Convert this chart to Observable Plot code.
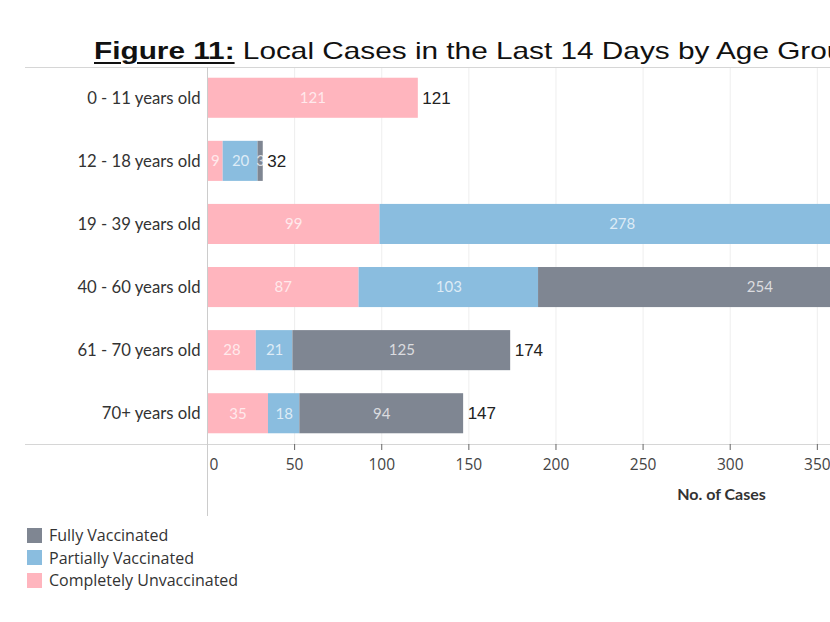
<!DOCTYPE html>
<html>
<head>
<meta charset="utf-8">
<script src="https://cdn.jsdelivr.net/npm/d3@7"></script>
<script src="https://cdn.jsdelivr.net/npm/@observablehq/plot@0.6"></script>
<style>
  body { margin: 0; width: 830px; height: 622px; overflow: hidden; position: relative; background: #fff; }
  #title { position: absolute; left: 94px; top: 37px; white-space: nowrap; font-family: "Liberation Sans", Arial, sans-serif; font-size: 24px; line-height: 28px; color: #111; transform-origin: left center; transform: scaleX(1.24); z-index: 2; }
  #title b { text-decoration: underline; text-decoration-thickness: 2px; text-underline-offset: 3px; }
  #chart { position: absolute; left: 0; top: 60px; width: 1240px; }
  #chart svg { max-width: none !important; width: 1240px; height: 460px; }
  #legend { position: absolute; left: 27px; top: 524px; font-family: "Open Sans", sans-serif; font-size: 16px; color: #333; }
  .item { display: flex; align-items: center; height: 22.5px; }
  .sw { width: 15px; height: 15px; margin-right: 7px; }
</style>
</head>
<body>
<div id="title"><b>Figure 11:</b> Local Cases in the Last 14 Days by Age Group</div>
<div id="chart"></div>
<div id="legend"></div>
<script>
const ageGroups = ["0 - 11 years old", "12 - 18 years old", "19 - 39 years old", "40 - 60 years old", "61 - 70 years old", "70+ years old"];
const statuses = ["Completely Unvaccinated", "Partially Vaccinated", "Fully Vaccinated"];
const unvaccinated = [121, 9, 99, 87, 28, 35];
const partially = [0, 20, 278, 103, 21, 18];
const fully = [0, 3, 150, 254, 125, 94];
const colors = ["#FFB5BE", "#8ABDDF", "#7F8692"];
const xTicks = [50, 100, 150, 200, 250, 300, 350, 400, 450, 500, 550];
const legendOrder = ["Fully Vaccinated", "Partially Vaccinated", "Completely Unvaccinated"];

const series = [unvaccinated, partially, fully];
const data = [];
ageGroups.forEach((age, i) => {
  statuses.forEach((s, j) => {
    if (series[j][i] > 0) data.push({age, status: s, value: series[j][i]});
  });
});

const stackOpts = {x: "value", y: "age", z: "status", order: statuses};

const plot = Plot.plot({
  width: 1240,
  height: 460,
  marginLeft: 207,
  marginRight: 5,
  marginTop: 7,
  marginBottom: 76,
  style: {fontFamily: "Lato", fontSize: "16px", color: "#333", background: "none", maxWidth: "none", overflow: "visible"},
  x: {domain: [0, 590]},
  y: {domain: ageGroups, paddingInner: 0.365, paddingOuter: 0.17, round: false},
  color: {domain: statuses, range: colors},
  marks: [
    Plot.ruleX(xTicks, {stroke: "#eeeeee"}),
    Plot.frame({anchor: "top", stroke: "#d6d6d6", insetLeft: -182}),
    Plot.frame({anchor: "bottom", stroke: "#d6d6d6", insetLeft: -182}),
    Plot.barX(data, Plot.stackX({...stackOpts, fill: "status"})),
    Plot.text(data, Plot.stackX({...stackOpts, text: "value", fill: "#ffffff", fillOpacity: 0.72, fontSize: 15, fontFamily: "Lato"})),
    Plot.text(data, Plot.groupY({x: "sum", text: "sum"}, {x: "value", text: "value", y: "age", textAnchor: "start", dx: 4, fontSize: 17, fontFamily: "Liberation Sans", fill: "#222"})),
    Plot.frame({anchor: "left", stroke: "#cccccc", insetBottom: -71}),
    Plot.axisY({tickSize: 0, tickPadding: 7, fontSize: 16.7, fill: "#333", label: null}),
    Plot.axisX(xTicks, {tickSize: 6, tickPadding: 8, fontSize: 15.5, fontFamily: "Open Sans", fill: "#444", stroke: "#666", label: null}),
    Plot.axisX([0], {tickSize: 0, tickPadding: 14, fontSize: 15.5, fontFamily: "Open Sans", fill: "#444", textAnchor: "start", dx: 2, label: null}),
    Plot.text(["No. of Cases"], {frameAnchor: "bottom", dy: 55, fontFamily: "Lato", fontWeight: "bold", fontSize: 16, fill: "#333"})
  ]
});
document.getElementById("chart").appendChild(plot);

const legend = d3.select("#legend");
legendOrder.forEach(s => {
  const item = legend.append("div").attr("class", "item");
  item.append("div").attr("class", "sw").style("background", colors[statuses.indexOf(s)]);
  item.append("span").text(s);
});
</script>
</body>
</html>
